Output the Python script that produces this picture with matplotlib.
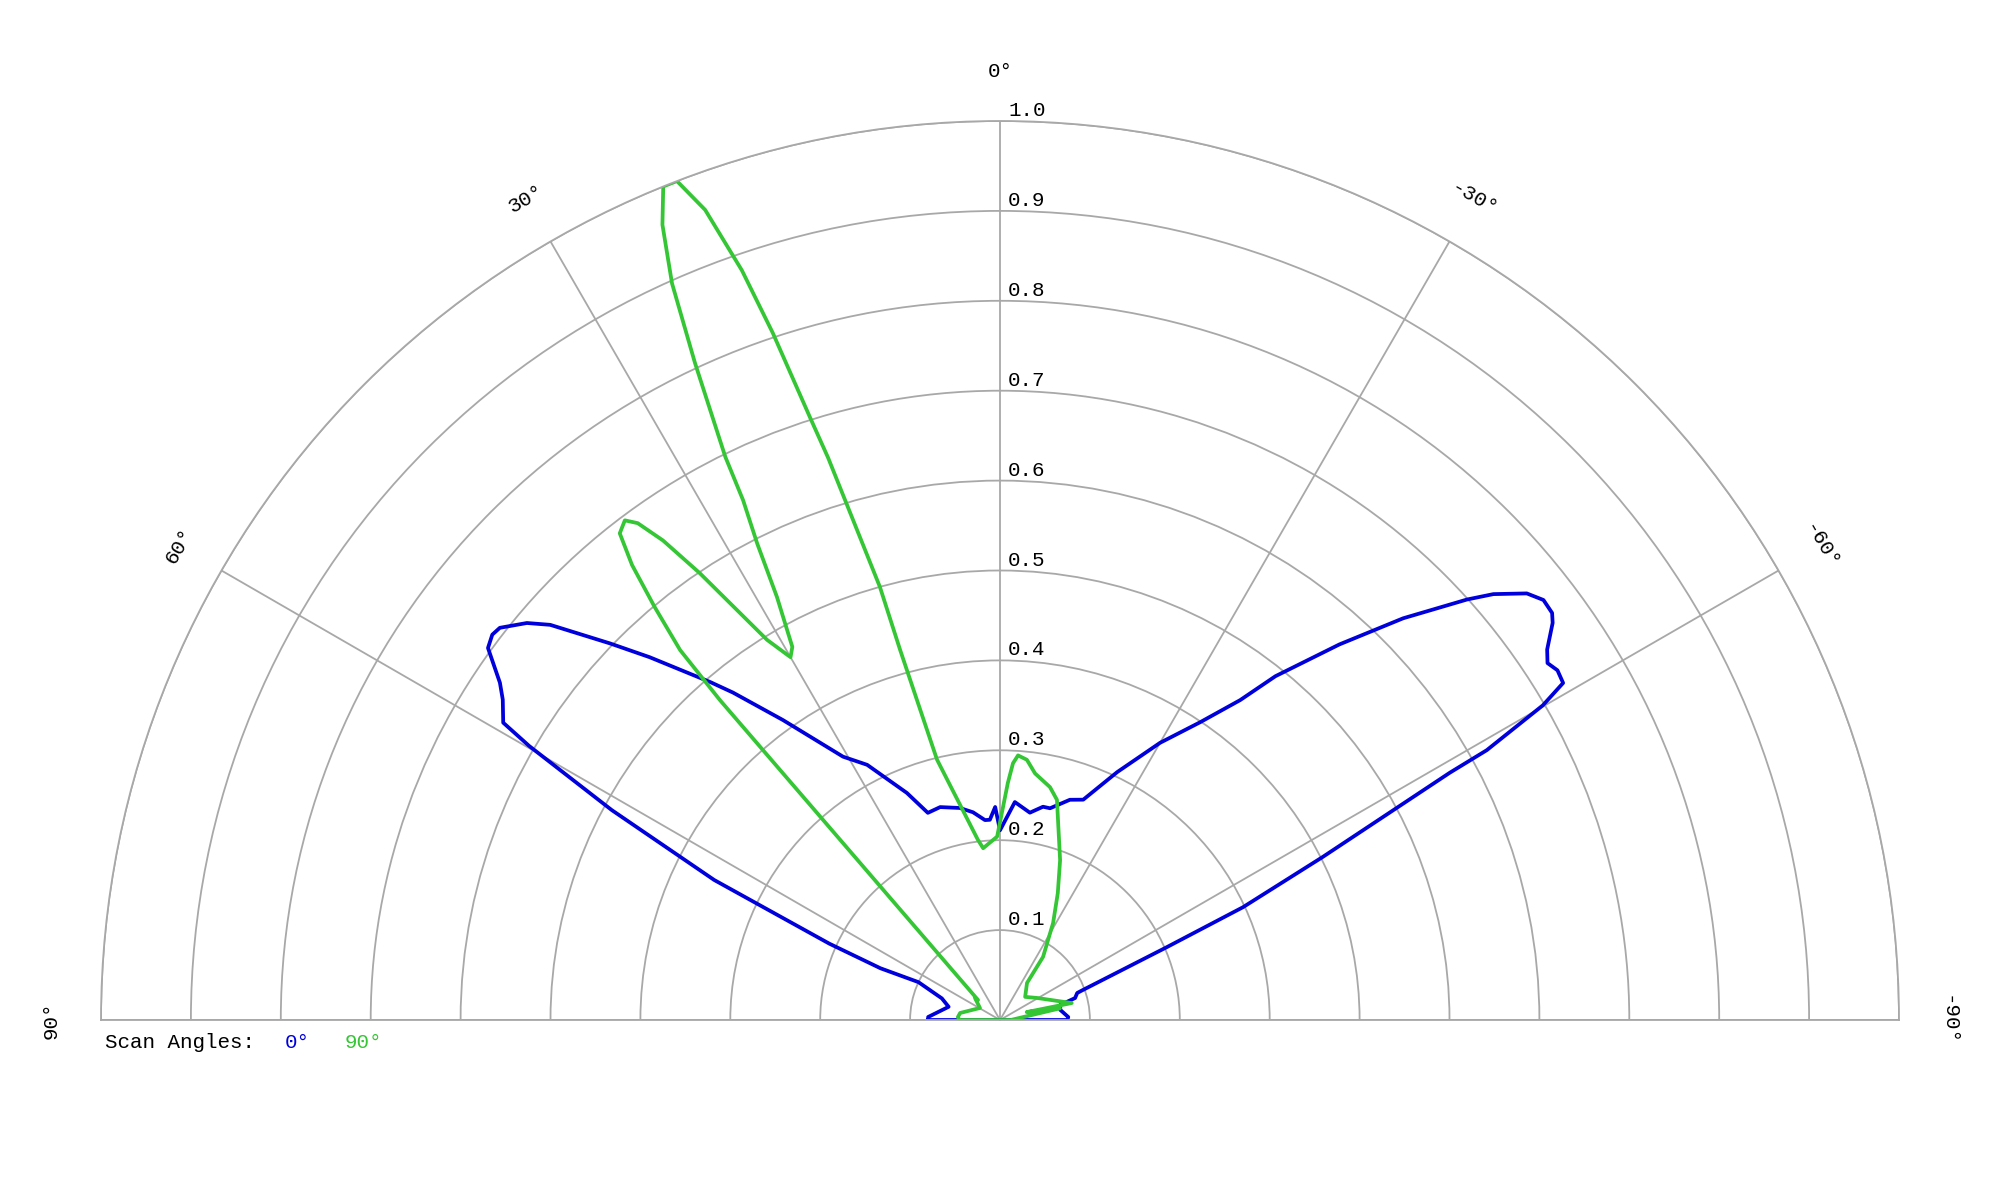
import numpy as np
import matplotlib
matplotlib.use('Agg')
import matplotlib.pyplot as plt

# Scan 0° (azul) - angulo em graus (positivo para a esquerda) e amplitude normalizada
blue_theta = [90, 87.6, 75.6, 69.6, 65.1, 66.6, 65.9, 63.9, 61.6, 59.8, 59.1, 57.2, 56.0, 54.0,
              52.8, 51.9, 50.0, 48.7, 46.0, 44.0, 40.6, 39.2, 35.9, 30.8, 27.5, 22.3, 19.2,
              15.7, 10.7, 7.4, 4.3, 2.9, 1.3, 0.0, -3.9, -8.2, -11.4, -13.3, -17.6, -20.7,
              -25.3, -30.0, -33.9, -36.9, -38.7, -42.1, -45.1, -48.0, -49.2, -51.0, -52.3,
              -53.6, -54.3, -55.9, -56.9, -57.9, -59.1, -59.9, -61.0, -61.2, -63.2, -65.1,
              -66.4, -70.1, -70.7, -73.7, -76.0, -80.5, -87.5, -90]
blue_r = [0.08, 0.08, 0.059, 0.069, 0.10, 0.145, 0.208, 0.354, 0.491, 0.606, 0.644, 0.658, 0.671,
          0.704, 0.709, 0.707, 0.687, 0.666, 0.603, 0.561, 0.495, 0.470, 0.412, 0.341, 0.32,
          0.273, 0.244, 0.246, 0.24, 0.233, 0.223, 0.223, 0.237, 0.211, 0.243, 0.233, 0.242,
          0.242, 0.257, 0.262, 0.305, 0.356, 0.399, 0.445, 0.49, 0.563, 0.633, 0.699, 0.725,
          0.754, 0.764, 0.763, 0.757, 0.735, 0.727, 0.732, 0.730, 0.698, 0.619, 0.571, 0.402,
          0.298, 0.203, 0.098, 0.091, 0.087, 0.069, 0.068, 0.076, 0.075]

# Scan 90° (verde)
green_theta = [90, 86, 80, 59, 48.7, 47.7, 41.2, 40.85, 39.9, 38.96, 38.0, 36.9, 36.1, 35.1,
               33.9, 31.5, 30.0, 29.1, 27.8, 27.0, 26.3, 26.0, 24.9, 24.0, 23.0, 22.0, 21.06,
               20.0, 19.0, 18.3, 17.5, 17.0, 15.5, 15.1, 13.6, 7.0, 5.6, 0.9, -1.9, -2.9, -3.9,
               -5.9, -8.1, -12.1, -14.5, -20.6, -24.5, -28.7, -34.3, -36.1, -47.4, -59.3,
               -76.7, -73.5, -79.0, -90]
green_r = [0.045, 0.047, 0.045, 0.026, 0.037, 0.033, 0.473, 0.544, 0.599, 0.651, 0.687, 0.695,
           0.684, 0.652, 0.599, 0.496, 0.466, 0.475, 0.532, 0.595, 0.645, 0.697, 0.806, 0.897,
           0.961, 1.0, 1.0, 0.959, 0.882, 0.805, 0.703, 0.654, 0.50, 0.426, 0.298, 0.202, 0.192,
           0.204, 0.264, 0.286, 0.295, 0.291, 0.277, 0.265, 0.253, 0.19, 0.155, 0.123, 0.085,
           0.051, 0.038, 0.048, 0.082, 0.031, 0.068, 0.012]

theta_ticks = [90, 60, 30, 0, -30, -60, -90]
theta_labels = ['90°', '60°', '30°', '0°', '-30°', '-60°', '-90°']
r_ticks = [0.1, 0.2, 0.3, 0.4, 0.5, 0.6, 0.7, 0.8, 0.9, 1.0]

FONT = 'Liberation Mono'
GRID = '#a8a8a8'
BLUE = '#0000dd'
GREEN = '#34c634'

fig = plt.figure(figsize=(20, 12), dpi=100)
# eixo quadrado: o semicirculo ocupa a metade central na vertical
R_PX = 899
ax = fig.add_axes([(1000 - R_PX) / 2000, (180 - R_PX / 2) / 1200,
                   2 * R_PX / 2000, 2 * R_PX / 1200], projection='polar')
ax.set_theta_zero_location('N')
ax.set_theta_direction(1)
ax.set_thetamin(-90)
ax.set_thetamax(90)
ax.set_rlim(0, 1.0)

# grade
ax.set_thetagrids(theta_ticks, labels=[''] * len(theta_ticks))
ax.set_rgrids(r_ticks, labels=[''] * len(r_ticks))
ax.grid(True, color=GRID, linewidth=1.3)
for sp in ax.spines.values():
    sp.set_color(GRID)
    sp.set_linewidth(1.3)
ax.tick_params(length=0)

# curvas (fechadas para passar pela base como no original)
bt = np.deg2rad(blue_theta + blue_theta[:1])
ax.plot(bt, blue_r + blue_r[:1], color=BLUE, linewidth=2.7, solid_joinstyle='round')
gt = np.deg2rad(green_theta + green_theta[:1])
ax.plot(gt, green_r + green_r[:1], color=GREEN, linewidth=2.7, solid_joinstyle='round')

# rotulos angulares
for t, lab in zip(theta_ticks, theta_labels):
    ax.text(np.deg2rad(t), 1.055, lab, rotation=t, ha='center', va='center',
            rotation_mode='anchor', family=FONT, fontsize=15, clip_on=False)

# rotulos radiais ao lado do raio 0°
for r in r_ticks:
    ax.annotate(f'{r:.1f}', xy=(0, r), xytext=(8, 5), textcoords='offset pixels',
                ha='left', va='baseline', family=FONT, fontsize=15, annotation_clip=False)

# legenda
fig.text(105 / 2000, 1 - 1042 / 1200, 'Scan Angles:', family=FONT, fontsize=15, va='center')
fig.text(285 / 2000, 1 - 1042 / 1200, '0°', family=FONT, fontsize=15, va='center', color=BLUE)
fig.text(345 / 2000, 1 - 1042 / 1200, '90°', family=FONT, fontsize=15, va='center', color=GREEN)

fig.savefig('out.png', dpi=100, facecolor='white')
